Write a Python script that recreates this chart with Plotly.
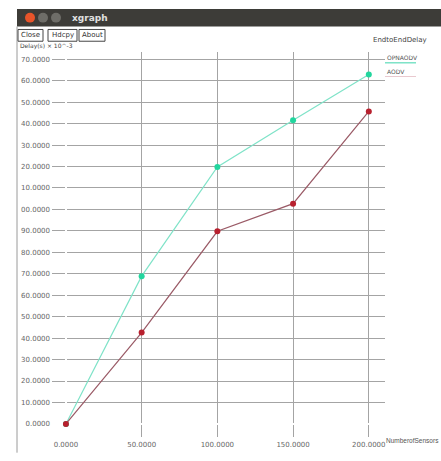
import plotly.graph_objects as go

# ---- data ----
num_sensors = [0, 50, 100, 150, 200]
opnaodv_delay = [0, 68.9, 119.8, 141.6, 162.9]
aodv_delay = [0, 42.6, 89.8, 102.7, 145.7]
y_ticks = [0, 10, 20, 30, 40, 50, 60, 70, 80, 90, 100, 110, 120, 130, 140, 150, 160, 170]
y_ticktext = ["0.0000", "10.0000", "20.0000", "30.0000", "40.0000", "50.0000", "60.0000",
              "70.0000", "80.0000", "90.0000", "00.0000", "10.0000", "20.0000", "30.0000",
              "40.0000", "50.0000", "60.0000", "70.0000"]
x_ticks = [0, 50, 100, 150, 200]
x_ticktext = ["0.0000", "50.0000", "100.0000", "150.0000", "200.0000"]

W, H = 441, 461
L, R, T, B = 52, 385, 52, 445
FONT = "DejaVu Sans"


def px(x):
    return (x - L) / (R - L)


def py(y):
    return (B - y) / (B - T)


fig = go.Figure()
fig.add_trace(go.Scatter(x=num_sensors, y=opnaodv_delay, mode="lines+markers", name="OPNAODV",
                         line=dict(color="#7fe3c8", width=1.2),
                         marker=dict(color="#22d69e", size=6, symbol="circle")))
fig.add_trace(go.Scatter(x=num_sensors, y=aodv_delay, mode="lines+markers", name="AODV",
                         line=dict(color="#9a5a66", width=1.2),
                         marker=dict(color="#b8202e", size=6, symbol="circle")))

shapes = []
# title bar
shapes.append(dict(type="rect", xref="paper", yref="paper", x0=px(17), x1=px(445), y0=py(8), y1=py(26),
                   fillcolor="#3d3c38", line=dict(width=0), layer="above"))
for cx, col in [(30, "#e8542a"), (43, "#6e6d68"), (56, "#6e6d68")]:
    shapes.append(dict(type="circle", xref="paper", yref="paper", x0=px(cx - 5), x1=px(cx + 5),
                       y0=py(22), y1=py(12), fillcolor=col, line=dict(width=0), layer="above"))
# window left border
shapes.append(dict(type="line", xref="paper", yref="paper", x0=px(17), x1=px(17), y0=py(26), y1=py(461),
                   line=dict(color="#9a9a9a", width=1), layer="above"))
# buttons
for x0, x1 in [(18, 43), (48, 77), (79, 105)]:
    shapes.append(dict(type="rect", xref="paper", yref="paper", x0=px(x0), x1=px(x1), y0=py(41), y1=py(29),
                       fillcolor="white", line=dict(color="#444", width=1), layer="above"))
# legend lines
shapes.append(dict(type="line", xref="paper", yref="paper", x0=px(385), x1=px(416), y0=py(63), y1=py(63),
                   line=dict(color="#7fe3c8", width=1.5), layer="above"))
shapes.append(dict(type="line", xref="paper", yref="paper", x0=px(385), x1=px(416), y0=py(77), y1=py(77),
                   line=dict(color="#e9c9cf", width=1), layer="above"))

ann = []
ann.append(dict(text="<b>xgraph</b>", x=px(70), y=py(17), xref="paper", yref="paper", xanchor="left",
                yanchor="middle", showarrow=False, font=dict(family=FONT, size=9, color="#e0e0e0")))
for cx, t in [(30.5, "Close"), (62.5, "Hdcpy"), (92, "About")]:
    ann.append(dict(text=t, x=px(cx), y=py(35), xref="paper", yref="paper", xanchor="center",
                    yanchor="middle", showarrow=False, font=dict(family=FONT, size=7, color="#333")))
ann.append(dict(text="Delay(s) × 10^-3", x=px(18), y=py(46), xref="paper", yref="paper", xanchor="left",
                yanchor="middle", showarrow=False, font=dict(family=FONT, size=6, color="#444")))
ann.append(dict(text="EndtoEndDelay", x=px(400), y=py(40), xref="paper", yref="paper", xanchor="center",
                yanchor="middle", showarrow=False, font=dict(family=FONT, size=7, color="#444")))
ann.append(dict(text="OPNAODV", x=px(385), y=py(58), xref="paper", yref="paper", xanchor="left",
                yanchor="middle", showarrow=False, font=dict(family=FONT, size=6, color="#555")))
ann.append(dict(text="AODV", x=px(385), y=py(72), xref="paper", yref="paper", xanchor="left",
                yanchor="middle", showarrow=False, font=dict(family=FONT, size=6, color="#555")))
ann.append(dict(text="NumberofSensors", x=px(384), y=py(449), xref="paper", yref="paper", xanchor="left",
                yanchor="middle", showarrow=False,
                font=dict(family="Liberation Sans", size=6.5, color="#555")))

fig.update_layout(
    width=W, height=H,
    margin=dict(l=L, r=W - R, t=T, b=H - B, pad=0),
    paper_bgcolor="white", plot_bgcolor="white",
    showlegend=False,
    shapes=shapes, annotations=ann,
    xaxis=dict(range=[-9.2, 210.7], tickvals=x_ticks, ticktext=x_ticktext, showgrid=True,
               gridcolor="#a4a4a4", gridwidth=1, zeroline=True, zerolinecolor="white",
               showline=False, ticks="", ticklabelstandoff=2,
               tickfont=dict(family=FONT, size=7, color="#666")),
    yaxis=dict(range=[-6.1, 173.4], tickvals=y_ticks, ticktext=y_ticktext, showgrid=True,
               gridcolor="#a4a4a4", gridwidth=1, zeroline=True, zerolinecolor="white",
               showline=False, ticks="", ticklabelstandoff=1,
               tickfont=dict(family=FONT, size=7, color="#666")),
)

fig.write_html("out.html")
